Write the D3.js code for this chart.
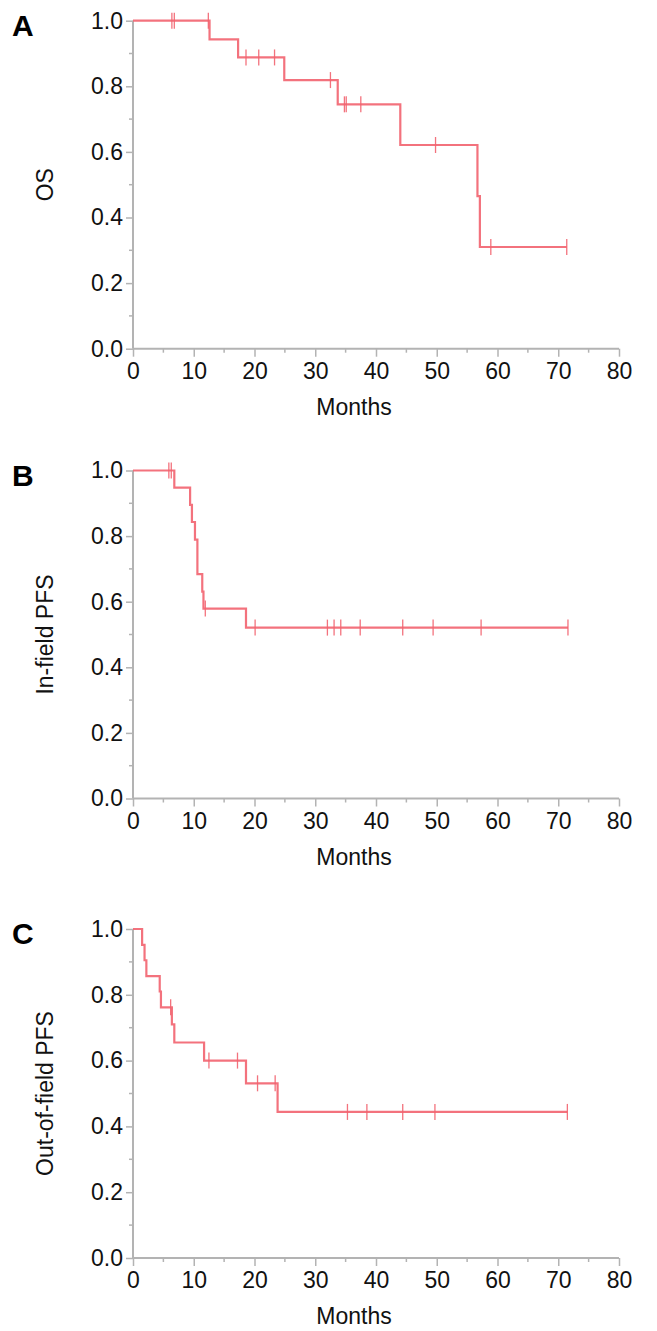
<!DOCTYPE html>
<html><head><meta charset="utf-8">
<script src="https://cdn.jsdelivr.net/npm/d3@7"></script>
<style>body{margin:0;background:#fff}svg{display:block}</style>
</head><body><svg id="chart" width="657" height="1331"></svg>
<script>
// ---- data ----
const xTickValues = [0, 10, 20, 30, 40, 50, 60, 70, 80];
const xMinorTickValues = [5, 15, 25, 35, 45, 55, 65, 75];
const yTickValues = [0, 0.2, 0.4, 0.6, 0.8, 1.0];
const yMinorTickValues = [0.1, 0.3, 0.5, 0.7, 0.9];
const panelLetters = ["A", "B", "C"];
const yTitles = ["OS", "In-field PFS", "Out-of-field PFS"];
const xTitle = "Months";

// A: OS
const osEventMonths = [12.6, 17.3, 24.9, 33.7, 44.0, 56.7, 57.1];
const osEventSurv   = [0.943, 0.888, 0.819, 0.745, 0.621, 0.465, 0.310];
const osCensorMonths = [6.4, 6.8, 12.4, 18.6, 20.7, 23.3, 32.5, 34.8, 35.1, 37.5, 49.8, 58.9, 71.4];

// B: In-field PFS
const infEventMonths = [6.8, 9.4, 9.7, 10.2, 10.6, 11.4, 11.6, 18.6];
const infEventSurv   = [0.948, 0.895, 0.843, 0.789, 0.684, 0.631, 0.579, 0.521];
const infCensorMonths = [5.9, 6.3, 11.9, 20.1, 32.0, 33.1, 34.2, 37.4, 44.4, 49.4, 57.3, 71.6];

// C: Out-of-field PFS
const outEventMonths = [1.5, 1.9, 2.2, 4.4, 4.6, 6.4, 6.8, 11.7, 18.6, 23.8];
const outEventSurv   = [0.952, 0.905, 0.857, 0.810, 0.762, 0.710, 0.655, 0.600, 0.531, 0.444];
const outCensorMonths = [6.2, 12.5, 17.2, 20.5, 23.4, 35.3, 38.5, 44.4, 49.7, 71.5];

// ---- layout ----
const panels = [
  {top: 20.7, bottom: 348.7, ev: osEventMonths, sv: osEventSurv, cs: osCensorMonths},
  {top: 470.5, bottom: 798.5, ev: infEventMonths, sv: infEventSurv, cs: infCensorMonths},
  {top: 929, bottom: 1258, ev: outEventMonths, sv: outEventSurv, cs: outCensorMonths}
];
const tickBase = 30, titleBase = 66;
const left = 133, right = 619;
const axisColor = "#b3b3b3";
const curveColor = "#f2636f";
const font = "Arial, 'Liberation Sans', sans-serif";
const fs = 23;

const svg = d3.select("#chart");

panels.forEach((p, i) => {
  const x = d3.scaleLinear().domain([0, 80]).range([left, right]);
  const y = d3.scaleLinear().domain([0, 1]).range([p.bottom, p.top]);
  const g = svg.append("g");

  // x axis
  const xAxis = d3.axisBottom(x).tickValues(xTickValues).tickSize(8).tickFormat(d3.format("d"));
  const gx = g.append("g").attr("transform", `translate(0,${p.bottom})`).call(xAxis);
  gx.selectAll(".tick text").attr("y", tickBase).attr("dy", null);
  gx.append("g").selectAll("line").data(xMinorTickValues).join("line")
    .attr("x1", d => x(d)).attr("x2", d => x(d)).attr("y1", 0).attr("y2", 4);
  // y axis
  const yAxis = d3.axisLeft(y).tickValues(yTickValues).tickSize(7).tickPadding(3).tickFormat(d3.format(".1f"));
  const gy = g.append("g").attr("transform", `translate(${left},0)`).call(yAxis);
  gy.append("g").selectAll("line").data(yMinorTickValues).join("line")
    .attr("y1", d => y(d)).attr("y2", d => y(d)).attr("x1", 0).attr("x2", -4);

  [gx, gy].forEach(a => {
    a.selectAll(".domain").attr("stroke", axisColor).attr("stroke-width", 2);
    a.selectAll("line").attr("stroke", axisColor).attr("stroke-width", 1.5);
    a.selectAll("text").attr("font-family", font).attr("font-size", fs).attr("fill", "#111");
  });
  gx.select(".domain").attr("d", `M${left},0H${right}`);
  gy.select(".domain").attr("d", `M0,${p.bottom}V${p.top}`);

  // titles
  g.append("text").attr("x", (left + right) / 2 - 22).attr("y", p.bottom + titleBase)
    .attr("text-anchor", "middle").attr("font-family", font).attr("font-size", fs).attr("fill", "#111")
    .text(xTitle);
  g.append("text").attr("transform", `translate(53,${(p.top + p.bottom) / 2}) rotate(-90)`)
    .attr("text-anchor", "middle").attr("font-family", font).attr("font-size", fs).attr("fill", "#111")
    .text(yTitles[i]);
  g.append("text").attr("x", 12).attr("y", p.top + 15)
    .attr("font-family", font).attr("font-size", 30).attr("font-weight", "bold").attr("fill", "#000")
    .text(panelLetters[i]);

  // KM step curve
  const tMax = d3.max(p.cs.concat(p.ev));
  const pts = [[0, 1]].concat(p.ev.map((t, j) => [t, p.sv[j]]));
  pts.push([tMax, p.sv[p.sv.length - 1]]);
  const line = d3.line().x(d => x(d[0])).y(d => y(d[1])).curve(d3.curveStepAfter);
  g.append("path").datum(pts).attr("d", line).attr("fill", "none")
    .attr("stroke", curveColor).attr("stroke-width", 2.2).attr("stroke-opacity", 0.9);

  const survAt = t => { let s = 1; p.ev.forEach((e, j) => { if (e <= t) s = p.sv[j]; }); return s; };
  g.append("g").selectAll("line").data(p.cs).join("line")
    .attr("x1", d => x(d)).attr("x2", d => x(d))
    .attr("y1", d => y(survAt(d)) - 8).attr("y2", d => y(survAt(d)) + 8)
    .attr("stroke", curveColor).attr("stroke-width", 1.3).attr("stroke-opacity", 0.9);
});
</script>
</body></html>
